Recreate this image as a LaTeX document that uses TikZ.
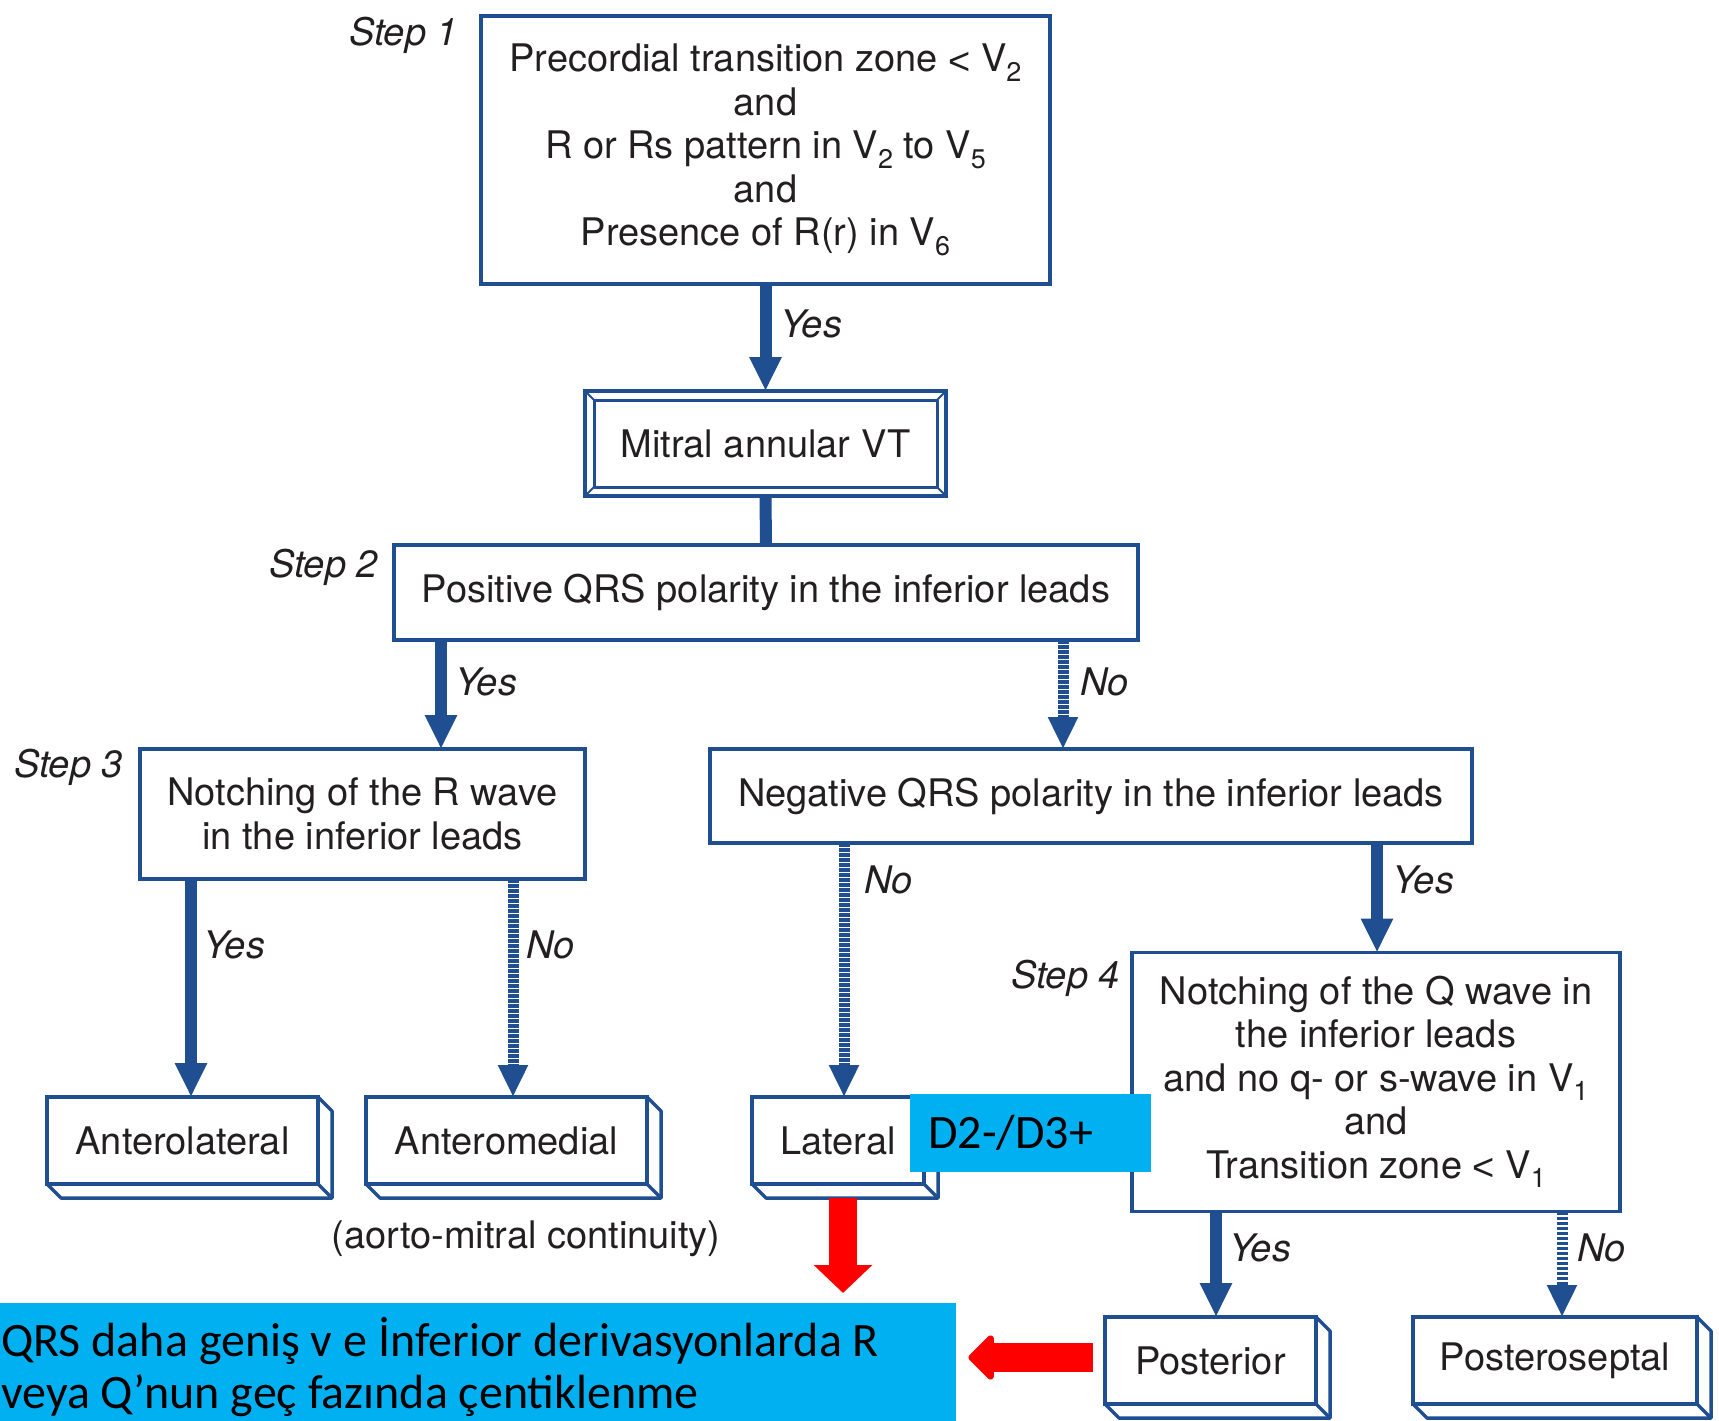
\documentclass[tikz,border=0pt]{standalone}
\usepackage{fontspec}
\setmainfont{TeX Gyre Heros}
\newfontfamily\calib{Carlito}
\newfontfamily\ltfont{Liberation Sans}
\usetikzlibrary{arrows.meta,calc}
\definecolor{fblue}{RGB}{31,78,145}
\definecolor{fcyan}{RGB}{0,176,240}
\definecolor{fred}{RGB}{255,0,0}
\definecolor{ftext}{RGB}{35,31,32}
\newcommand\lsub[1]{\raisebox{-0.25em}{\fontsize{27}{27}\selectfont #1}}
\newcommand\lessthan{{\ltfont\raisebox{-0.06em}{<}}}
\newcommand\extrude[1]{%
  \draw[boxline] (#1.north east) -- ++(14,14) -- ($(#1.south east)+(14,14)$) -- ($(#1.south west)+(14,14)$) -- (#1.south west);
  \draw[boxline] (#1.south east) -- ++(14,14);}
\tikzset{
  box/.style={draw=fblue, line width=3.5pt, fill=white, text=ftext, align=center,
    inner sep=0pt, outer sep=0pt, font=\fontsize{38}{43.5}\selectfont},
  boxline/.style={draw=fblue, line width=3.5pt, line join=round},
  yesarrow/.style={draw=fblue, line width=12pt, -{Triangle[width=30pt,length=34pt]}},
  noarrow/.style={draw=fblue, line width=11pt, dash pattern=on 3.5pt off 1.5pt, -{Triangle[width=28pt,length=32pt]}},
  thickline/.style={draw=fblue, line width=12pt},
  lbl/.style={anchor=west, text=ftext, font=\fontsize{38}{40}\selectfont\itshape, inner sep=0pt},
  steplbl/.style={anchor=east, text=ftext, font=\fontsize{38}{40}\selectfont\itshape, inner sep=0pt},
  reddown/.style={draw=fred, line width=28pt, -{Triangle[width=57pt,length=28pt]}},
  redleft/.style={draw=fred, line width=29pt, line join=round, -{Triangle[width=52pt,length=27pt,round]}},
  calibtext/.style={text=black, font=\calib\fontsize{48}{56}\selectfont, inner sep=0pt}
}
\begin{document}
\begin{tikzpicture}[x=1pt,y=-1pt]
\useasboundingbox (0,0) rectangle (1719,1421);
\fill[white] (0,0) rectangle (1719,1421);

% main boxes
\node[box, minimum width=569pt, minimum height=268pt] (s1) at (765.5,150)
  {Precordial transition zone \lessthan{} V\lsub{2}\\and\\R or Rs pattern in V\lsub{2} to V\lsub{5}\\and\\Presence of R(r) in V\lsub{6}};
\node[box, line width=4pt, minimum width=361pt, minimum height=105pt] (mit) at (765.5,443.5) {Mitral annular VT};
\draw[boxline, line width=3pt] ($(mit.north west)+(9,9)$) rectangle ($(mit.south east)+(-9,-9)$);
\draw[boxline, line width=2pt] (mit.north west) -- ++(9,9);
\draw[boxline, line width=2pt] (mit.north east) -- ++(-9,9);
\draw[boxline, line width=2pt] (mit.south west) -- ++(9,-9);
\draw[boxline, line width=2pt] (mit.south east) -- ++(-9,-9);
\node[box, minimum width=744pt, minimum height=95pt] (s2) at (766,592.5) {Positive QRS polarity in the inferior leads};
\node[box, minimum width=445pt, minimum height=130pt] (s3) at (362.5,814) {Notching of the R wave\\in the inferior leads};
\node[box, minimum width=762pt, minimum height=94pt] (neg) at (1091,796) {Negative QRS polarity in the inferior leads};
\node[box, minimum width=488pt, minimum height=259pt] (s4) at (1376,1082)
  {Notching of the Q wave in\\the inferior leads\\and no q- or s-wave in V\lsub{1}\\and\\Transition zone \lessthan{} V\lsub{1}};

% leaf boxes
\node[box, minimum width=271pt, minimum height=87pt] (antl) at (182.5,1140.5) {Anterolateral};
\extrude{antl}
\node[box, minimum width=281pt, minimum height=87pt] (antm) at (506.5,1140.5) {Anteromedial};
\extrude{antm}
\node[box, minimum width=172pt, minimum height=87pt] (lat) at (838,1140.5) {Lateral};
\extrude{lat}
\node[box, minimum width=211pt, minimum height=87pt] (post) at (1210.5,1360.5) {Posterior};
\extrude{post}
\node[box, minimum width=284pt, minimum height=87pt] (psep) at (1555,1360.5) {Posteroseptal};
\extrude{psep}

\node[text=ftext, font=\fontsize{38}{40}\selectfont, inner sep=0pt] (aorto) at (526,1239) {(aorto-mitral continuity)};

% step labels
\node[steplbl] (st1) at ($(s1.north west)+(-23,19)$) {Step 1};
\node[steplbl] (st2) at ($(s2.north west)+(-16,22)$) {Step 2};
\node[steplbl] (st3) at ($(s3.north west)+(-17,18)$) {Step 3};
\node[steplbl] (st4) at ($(s4.north west)+(-12,26)$) {Step 4};

% connectors
\draw[yesarrow] (s1.south) -- (mit.north);
\draw[thickline] (mit.south) -- (s2.north);
\coordinate (c2y) at (441,0);
\coordinate (c2n) at (1063,0);
\coordinate (c3y) at (191,0);
\coordinate (c3n) at (513,0);
\coordinate (cnn) at (844,0);
\coordinate (cny) at (1377,0);
\coordinate (c4y) at (1216,0);
\coordinate (c4n) at (1562,0);
\draw[yesarrow] (s2.south -| c2y) -- (s3.north -| c2y);
\draw[noarrow] (s2.south -| c2n) -- (neg.north -| c2n);
\draw[yesarrow] (s3.south -| c3y) -- (antl.north -| c3y);
\draw[noarrow] (s3.south -| c3n) -- (antm.north -| c3n);
\draw[noarrow] (neg.south -| cnn) -- (lat.north -| cnn);
\draw[yesarrow] (neg.south -| cny) -- (s4.north -| cny);
\draw[yesarrow] (s4.south -| c4y) -- (post.north -| c4y);
\draw[noarrow] (s4.south -| c4n) -- (psep.north -| c4n);

% connector labels
\node[lbl] (l1) at (780,324) {Yes};
\node[lbl] (l2y) at (455,682) {Yes};
\node[lbl] (l2n) at (1080,682) {No};
\node[lbl] (l3y) at (203,945) {Yes};
\node[lbl] (l3n) at (526,945) {No};
\node[lbl] (lnn) at (864,880) {No};
\node[lbl] (lny) at (1392,880) {Yes};
\node[lbl] (l4y) at (1229,1248) {Yes};
\node[lbl] (l4n) at (1577,1248) {No};

% overlay annotations
\node[fill=fcyan, anchor=north west, minimum width=241pt, minimum height=78pt, text width=205pt,
  inner xsep=18pt, inner ysep=0pt, align=left, font=\calib\fontsize{48}{48}\selectfont, text=black] (d2) at (910,1094) {D2-/D3+};
\node[fill=fcyan, anchor=north west, minimum width=956pt, minimum height=140pt, inner sep=0pt] (note) at (0,1303) {};
\node[calibtext, anchor=base west] (note1) at (1,1356) {QRS daha geniş v e İnferior derivasyonlarda R};
\node[calibtext, anchor=base west] (note2) at (1,1408) {veya Q’nun geç fazında çentiklenme};

\coordinate (rds) at ($(lat.south)+(5,14)$);
\draw[reddown, shorten >=10pt] (rds) -- (rds |- note.north);
\coordinate (rls) at ($(post.west)+(0,-3)$);
\draw[redleft, shorten <=12pt, shorten >=12pt] (rls) -- (rls -| note.east);
\end{tikzpicture}
\end{document}
